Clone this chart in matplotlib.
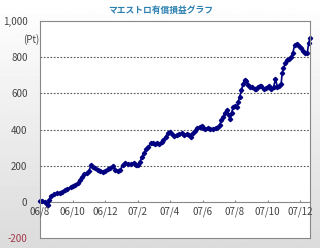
import numpy as np
import matplotlib.pyplot as plt

plt.rcParams['font.family'] = ['Noto Sans CJK JP', 'DejaVu Sans']

# data: months since 2006/08 and cumulative P/L (Pt)
months = [0.00, 0.14, 0.29, 0.41, 0.47, 0.57, 0.65, 0.86, 1.06, 1.22, 1.37, 1.51, 1.67,
          1.88, 2.04, 2.18, 2.33, 2.45, 2.59, 2.73, 2.90, 3.02, 3.14, 3.27, 3.41, 3.55,
          3.71, 3.88, 4.02, 4.16, 4.33, 4.49, 4.63, 4.78, 4.94, 5.10, 5.24, 5.41, 5.59,
          5.76, 5.92, 6.06, 6.16, 6.27, 6.41, 6.53, 6.67, 6.82, 6.94, 7.08, 7.22, 7.35,
          7.49, 7.59, 7.73, 7.86, 8.00, 8.10, 8.24, 8.41, 8.57, 8.71, 8.86, 9.02, 9.16,
          9.27, 9.39, 9.53, 9.67, 9.84, 9.94, 10.04, 10.18, 10.35, 10.49, 10.65, 10.82,
          10.96, 11.06, 11.16, 11.27, 11.39, 11.51, 11.63, 11.71, 11.80, 11.88, 12.00,
          12.12, 12.20, 12.29, 12.39, 12.49, 12.59, 12.69, 12.80, 12.94, 13.06, 13.20,
          13.31, 13.41, 13.51, 13.63, 13.76, 13.88, 14.00, 14.12, 14.24, 14.37, 14.49,
          14.61, 14.73, 14.84, 14.90, 14.98, 15.10, 15.22, 15.35, 15.47, 15.55, 15.67,
          15.82, 15.96, 16.08, 16.20, 16.33, 16.45, 16.53, 16.61]
pl = [4, 4, 0, -10, -18, 10, 33, 42, 48, 52, 57, 66, 70, 81, 88, 94, 103, 121, 140,
      155, 158, 173, 204, 195, 186, 177, 173, 168, 173, 180, 186, 200, 177, 169, 177,
      204, 214, 208, 210, 217, 206, 203, 223, 247, 272, 291, 306, 324, 324, 319, 328,
      320, 333, 343, 361, 379, 389, 376, 365, 370, 374, 379, 372, 376, 368, 361, 379,
      394, 407, 416, 420, 411, 401, 407, 401, 405, 411, 412, 425, 453, 471, 494, 508,
      481, 457, 494, 527, 530, 527, 554, 582, 619, 650, 674, 668, 646, 637, 634, 622,
      622, 634, 641, 641, 622, 628, 634, 641, 626, 634, 678, 637, 641, 652, 711, 739,
      766, 785, 788, 799, 821, 867, 871, 862, 849, 837, 821, 825, 877, 904]

xtick_pos = [0, 2, 4, 6, 8, 10, 12, 14, 16]
xtick_labels = ['06/8', '06/10', '06/12', '07/2', '07/4', '07/6', '07/8', '07/10', '07/12']
ytick_pos = [-200, 0, 200, 400, 600, 800, 1000]
ytick_labels = ['-200', '0', '200', '400', '600', '800', '1,000']

fig = plt.figure(figsize=(3.2, 2.48), dpi=100)

# light gray gradient background
bg = fig.add_axes([0, 0, 1, 1], zorder=-10)
grad = np.linspace(1.0, 0.86, 256).reshape(-1, 1)
bg.imshow(grad, aspect='auto', cmap='gray', vmin=0, vmax=1, extent=[0, 1, 0, 1])
bg.axis('off')

ax = fig.add_axes([0.125, 0.040, 0.844, 0.875])
ax.set_facecolor('white')
ax.plot(months, pl, color='#000080', lw=1.2, marker='D', ms=2.2, mec='#000080', clip_on=False)

ax.set_xlim(0, 16.62)
ax.set_ylim(-200, 1000)

# gridlines
for g in [200, 400, 600, 800]:
    ax.axhline(g, color='#555555', lw=0.8, ls=(0, (1.5, 1.5)), zorder=0)

# x axis drawn at zero
ax.axhline(0, color='#888888', lw=0.8, zorder=1)
ax.vlines(xtick_pos[1:], 0, 10, color='#888888', lw=0.8)
for xp, lab in zip(xtick_pos, xtick_labels):
    ax.text(xp, -55, lab, ha='center', va='center', fontsize=7, color='#444444')
ax.set_xticks([])

ax.set_yticks(ytick_pos)
ax.set_yticklabels(ytick_labels)
ax.tick_params(axis='y', length=0, pad=9, labelsize=7, labelcolor='#444444')
ax.get_yticklabels()[0].set_color('#a03a4a')

for s in ax.spines.values():
    s.set_color('#888888')
    s.set_linewidth(0.8)

ax.text(-0.003, 900, '(Pt)', transform=ax.get_yaxis_transform(), ha='right', va='center',
        fontsize=7, color='#444444')

fig.text(0.503, 0.958, 'マエストロ有償損益グラフ', ha='center', va='center', fontsize=6.3,
         fontweight='bold', color='#2a7fb0')

fig.savefig('out.png', dpi=100)
